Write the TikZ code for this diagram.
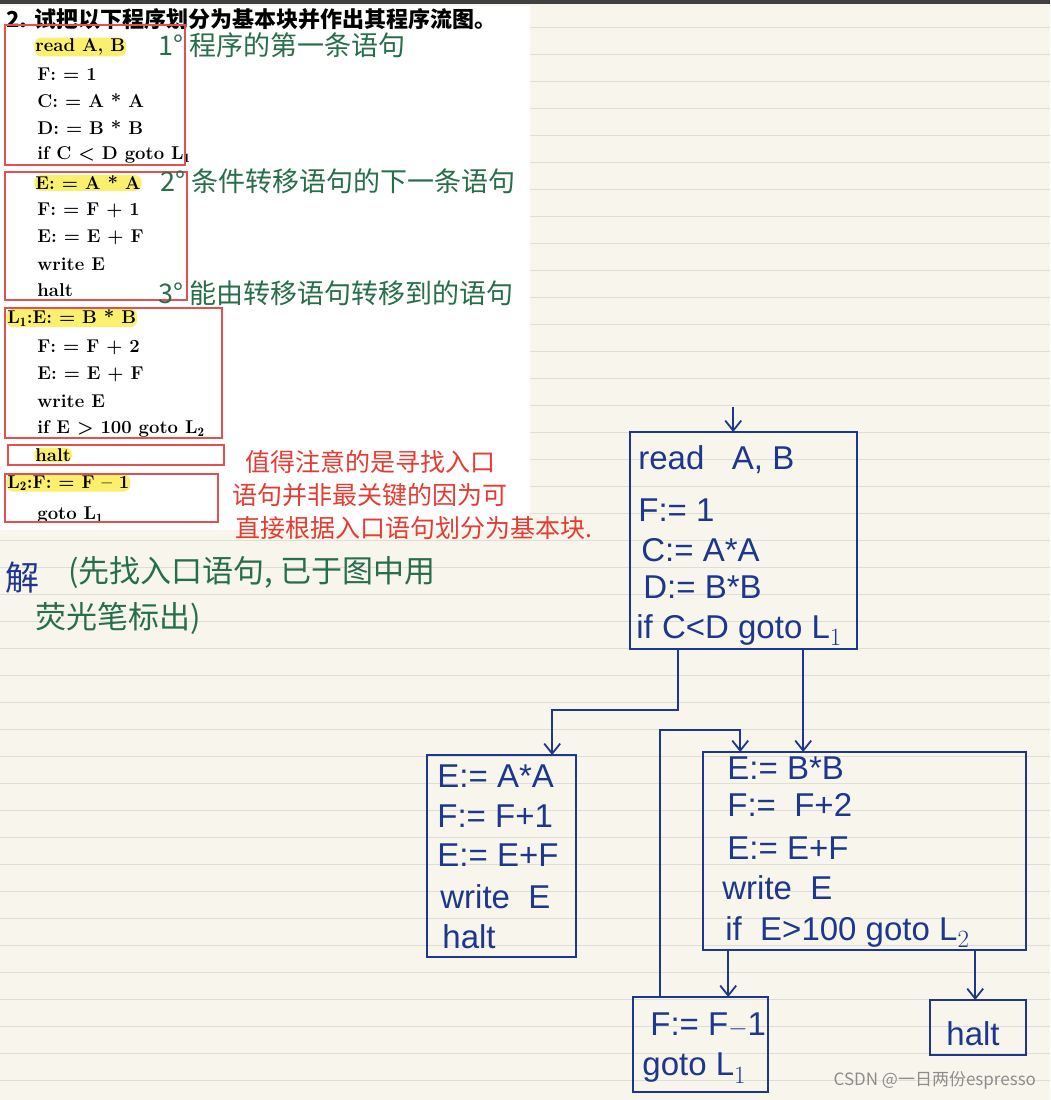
\documentclass[tikz,border=0pt]{standalone}
\usepackage{fontspec}
\setsansfont{Liberation Sans}
\newfontfamily\cjk{Noto Sans CJK SC}
\usetikzlibrary{positioning,calc,arrows.meta}
\definecolor{paperBg}{RGB}{248,246,236}
\definecolor{ruleLine}{RGB}{222,222,214}
\definecolor{boxRed}{RGB}{226,80,80}
\definecolor{inkBlue}{RGB}{30,55,140}
\definecolor{inkGreen}{RGB}{40,110,75}
\definecolor{inkRed}{RGB}{228,60,50}
\definecolor{markYellow}{RGB}{250,240,110}
\begin{document}
\begin{tikzpicture}[x=1pt,y=-1pt,
    code/.style={anchor=west,inner sep=1pt,font=\fontsize{18.5}{18.5}\selectfont\bfseries},
    highlit/.style={code,fill=markYellow,rounded corners=7pt},
    redbox/.style={draw=boxRed,line width=1.6pt},
    flow/.style={draw=inkBlue,line width=1.8pt},
    hand/.style={anchor=west,inner sep=0pt,text=inkBlue,font=\fontsize{33}{33}\selectfont\sffamily},
    note/.style={anchor=west,inner sep=0pt,font=\fontsize{27}{27}\selectfont\cjk},
    link/.style={draw=inkBlue,line width=1.8pt,-{Straight Barb[length=10pt,width=16pt]}}
  ]
  % paper
  \fill[paperBg] (0,0) rectangle (1050,1100);
  \foreach \y in {27,54,...,1100} \draw[ruleLine] (0,\y) -- (1050,\y);
  \fill[white] (0,6) rectangle (530,530);
  \fill[black!75] (0,0) rectangle (1050,4);

  % printed exercise
  \node[anchor=west,inner sep=0pt,font=\fontsize{22}{22}\selectfont\cjk\bfseries] (title) at (6,19) {2. 试把以下程序划分为基本块并作出其程序流图。};
  \node[highlit] (p1) at (34,47) {read A, B};
  \node[code] (p2) at (36,74) {F: = 1};
  \node[code] (p3) at (36,101) {C: = A * A};
  \node[code] (p4) at (36,128) {D: = B * B};
  \node[code] (p5) at (36,155) {if C < D goto L$_{\mathbf 1}$};
  \node[highlit] (p6) at (34,183) {E: = A * A};
  \node[code] (p7) at (36,210) {F: = F + 1};
  \node[code] (p8) at (36,237) {E: = E + F};
  \node[code] (p9) at (36,264) {write E};
  \node[code] (p10) at (36,290) {halt};
  \node[highlit] (p11) at (6,318) {L$_{\mathbf 1}$:E: = B * B};
  \node[code] (p12) at (36,347) {F: = F + 2};
  \node[code] (p13) at (36,374) {E: = E + F};
  \node[code] (p14) at (36,401) {write E};
  \node[code] (p15) at (36,429) {if E > 100 goto L$_{\mathbf 2}$};
  \node[highlit] (p16) at (34,455) {halt};
  \node[highlit] (p17) at (6,483) {L$_{\mathbf 2}$:F: = F -- 1};
  \node[code] (p18) at (36,515) {goto L$_{\mathbf 1}$};
  \draw[redbox] (5,25) rectangle (185,165);
  \draw[redbox] (5,172) rectangle (187,300);
  \draw[redbox] (5,308) rectangle (222,438);
  \draw[redbox] (8,445) rectangle (224,465);
  \draw[redbox] (5,474) rectangle (218,522);

  % handwritten notes
  \node[note,text=inkGreen] (n1) at (158,45) {1° 程序的第一条语句};
  \node[note,text=inkGreen] (n2) at (160,181) {2° 条件转移语句的下一条语句};
  \node[note,text=inkGreen] (n3) at (158,293) {3° 能由转移语句转移到的语句};
  \node[note,text=inkRed,font=\fontsize{25}{25}\selectfont\cjk] (n4) at (245,462) {值得注意的是寻找入口};
  \node[note,text=inkRed,font=\fontsize{25}{25}\selectfont\cjk] (n5) at (232,495) {语句并非最关键的因为可};
  \node[note,text=inkRed,font=\fontsize{25}{25}\selectfont\cjk] (n6) at (235,528) {直接根据入口语句划分为基本块.};
  \node[note,text=inkBlue,font=\fontsize{34}{34}\selectfont\cjk] (n7) at (5,578) {解};
  \node[note,text=inkGreen,font=\fontsize{31}{31}\selectfont\cjk] (n8) at (68,573) {(先找入口语句, 已于图中用};
  \node[note,text=inkGreen,font=\fontsize{31}{31}\selectfont\cjk] (n9) at (35,618) {荧光笔标出)};

  % flow graph
  \draw[flow] (630,432) rectangle (857,649);
  \node[hand] (b1a) at (638,460) {read\ \ \ A, B};
  \node[hand] (b1b) at (638,510) {F:= 1};
  \node[hand] (b1c) at (641,550) {C:= A*A};
  \node[hand] (b1d) at (643,587) {D:= B*B};
  \node[hand] (b1e) at (636,630) {if\ C<D\ goto\ L$_1$};
  \draw[flow] (427,755) rectangle (576,957);
  \node[hand] (b2a) at (437,776) {E:= A*A};
  \node[hand] (b2b) at (437,816) {F:= F+1};
  \node[hand] (b2c) at (437,855) {E:= E+F};
  \node[hand] (b2d) at (440,897) {write\ \ E};
  \node[hand] (b2e) at (442,937) {halt};
  \draw[flow] (703,752) rectangle (1026,950);
  \node[hand] (b3a) at (727,768) {E:= B*B};
  \node[hand] (b3b) at (727,805) {F:= \ F+2};
  \node[hand] (b3c) at (727,848) {E:= E+F};
  \node[hand] (b3d) at (722,888) {write\ \ E};
  \node[hand] (b3e) at (725,932) {if\ \ E>100\ goto\ L$_2$};
  \draw[flow] (633,997) rectangle (768,1092);
  \node[hand] (b4a) at (650,1025) {F:= F$-$1};
  \node[hand] (b4b) at (642,1068) {goto\ L$_1$};
  \draw[flow] (930,1000) rectangle (1026,1055);
  \node[hand] (b5a) at (946,1034) {halt};

  % connectors
  \coordinate (start) at (733,407);
  \draw[link] (start) -- (733,432);
  \draw[link] (678,649) -- (678,710) -- (552,710) -- (552,755);
  \draw[link] (803,649) -- (803,752);
  \draw[link] (728,950) -- (728,997);
  \draw[link] (975,950) -- (975,1000);
  \draw[link] (660,997) -- (660,730) -- (740,730) -- (740,752);

  % watermark
  \node[anchor=east,inner sep=0pt,text=black!45,font=\fontsize{17}{17}\selectfont\cjk] (wm) at (1036,1080) {CSDN @一日两份espresso};
\end{tikzpicture}
\end{document}
